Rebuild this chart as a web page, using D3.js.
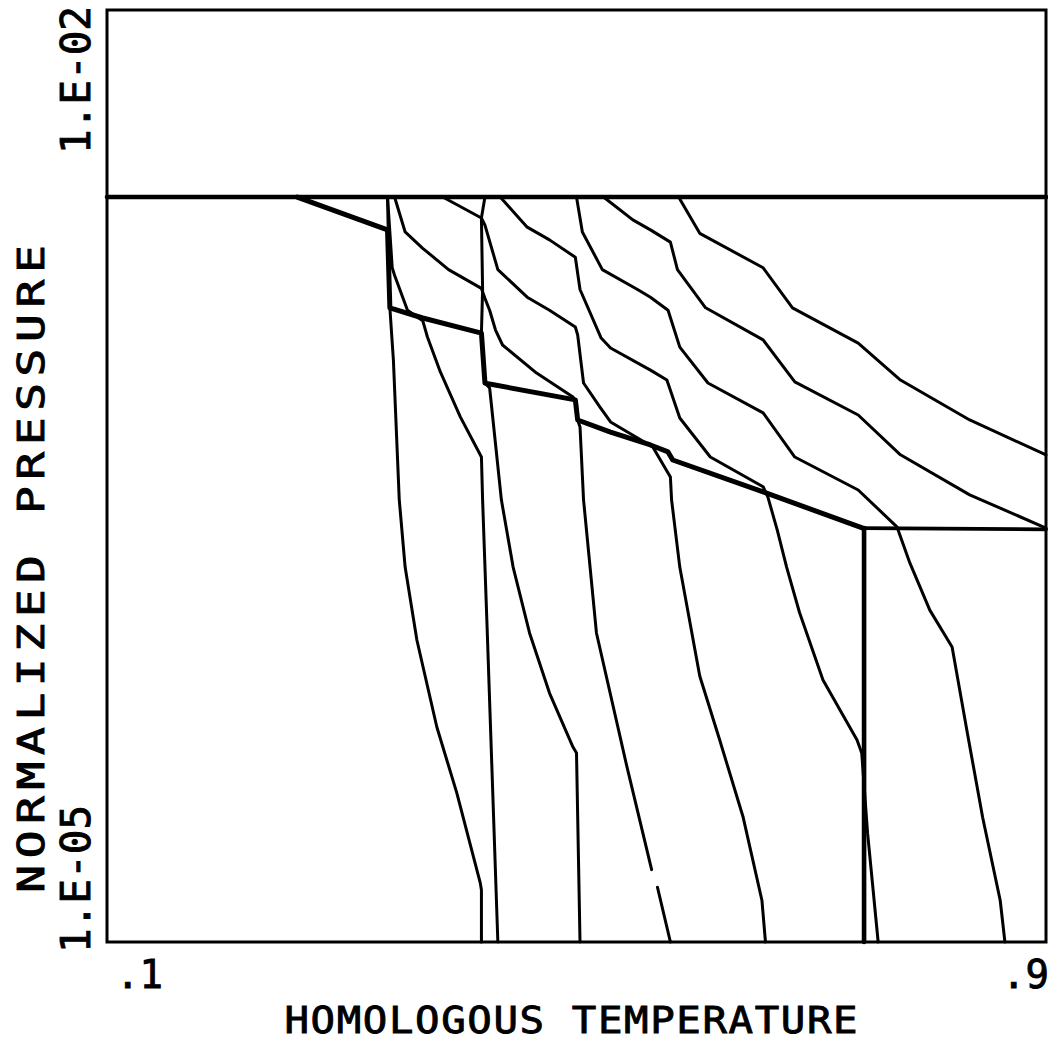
<!DOCTYPE html>
<html>
<head>
<meta charset="utf-8">
<script src="https://cdn.jsdelivr.net/npm/d3@7"></script>
<style>
  body { margin: 0; background: #fff; }
  svg { display: block; }
  text { font-family: "DejaVu Sans Mono", "Liberation Mono", monospace; fill: #000; stroke: #000; stroke-width: 0.9; }
</style>
</head>
<body>
<svg id="chart" width="1048" height="1046"></svg>
<script>
// Axis extents and end labels
const tempDomain = [0.1, 0.9];
const tempLabels = [".1", ".9"];
const pressDomain = [1e-5, 1e-2];
const pressLabels = ["1.E-05", "1.E-02"];

// Reference pressure level (upper heavy line)
const refPressure = 2.5e-3;

// Heavy boundary: stepped line from the reference level down to the right edge
const boundaryT = [0.262, 0.339, 0.341, 0.369, 0.419, 0.422, 0.426, 0.499, 0.501, 0.529, 0.563, 0.578, 0.582, 0.659, 0.744];
const boundaryP = [2.50e-3, 1.96e-3, 1.10e-3, 1.02e-3, 9.12e-4, 6.30e-4, 6.25e-4, 5.56e-4, 4.79e-4, 4.38e-4, 3.98e-4, 3.78e-4, 3.56e-4, 2.81e-4, 2.15e-4];
// Heavy shelf on the right and the heavy drop to the bottom
const shelfT = [0.744, 0.900];
const shelfP = [2.15e-4, 2.13e-4];
const dropT = [0.745, 0.745];
const dropP = [2.15e-4, 1.0e-5];

// Thin isolines (null marks a pen lift)
const lineAT = [0.339, 0.341, 0.344, 0.349, 0.354, 0.364, 0.381, 0.398, 0.418, 0.419, 0.419];
const lineAP = [2.50e-3, 1.10e-3, 7.47e-4, 2.65e-4, 1.61e-4, 9.38e-5, 4.92e-5, 3.02e-5, 1.55e-5, 1.47e-5, 1.0e-5];

const lineBT = [0.339, 0.343, 0.345, 0.356, 0.369, 0.373, 0.384, 0.401, 0.419, 0.420, 0.424, 0.433];
const lineBP = [2.50e-3, 1.48e-3, 1.40e-3, 1.08e-3, 1.00e-3, 8.86e-4, 6.84e-4, 4.90e-4, 3.64e-4, 2.65e-4, 9.88e-5, 1.0e-5];

const lineCT = [0.345, 0.354, 0.369, 0.391, 0.419, 0.422, 0.426, 0.431, 0.437, 0.466, 0.497, 0.500, 0.501, 0.503, 0.506, 0.517, 0.543, 0.564, null, 0.569, 0.580];
const lineCP = [2.50e-3, 1.93e-3, 1.71e-3, 1.46e-3, 1.27e-3, 1.18e-3, 1.08e-3, 9.33e-4, 8.35e-4, 6.78e-4, 5.68e-4, 5.43e-4, 4.79e-4, 4.55e-4, 2.65e-4, 9.88e-5, 3.66e-5, 1.71e-5, null, 1.50e-5, 1.0e-5];

const lineDT = [0.422, 0.419, 0.420, 0.419, 0.422, 0.426, 0.436, 0.446, 0.460, 0.477, 0.497, 0.500, 0.503];
const lineDP = [2.50e-3, 2.14e-3, 1.26e-3, 9.12e-4, 6.30e-4, 6.07e-4, 2.65e-4, 1.61e-4, 9.88e-5, 6.33e-5, 4.24e-5, 4.06e-5, 1.0e-5];

const lineET = [0.386, 0.419, 0.422, 0.433, 0.458, 0.477, 0.499, 0.501, 0.506, 0.520, 0.529, 0.565, 0.580, 0.581, 0.588, 0.605, 0.622, 0.642, 0.658, 0.661];
const lineEP = [2.50e-3, 2.14e-3, 2.03e-3, 1.46e-3, 1.19e-3, 1.08e-3, 9.54e-4, 8.99e-4, 6.30e-4, 5.27e-4, 4.72e-4, 3.92e-4, 3.14e-4, 2.65e-4, 1.61e-4, 7.18e-5, 4.47e-5, 2.52e-5, 1.36e-5, 1.0e-5];

const lineFT = [0.435, 0.458, 0.477, 0.499, 0.503, 0.521, 0.529, 0.563, 0.577, 0.588, 0.614, 0.659, 0.663, 0.671, 0.679, 0.690, 0.710, 0.739, 0.743, 0.748, 0.757];
const lineFP = [2.50e-3, 2.00e-3, 1.82e-3, 1.60e-3, 1.26e-3, 8.79e-4, 8.17e-4, 6.93e-4, 6.44e-4, 4.86e-4, 3.64e-4, 2.92e-4, 2.71e-4, 2.12e-4, 1.61e-4, 1.15e-4, 6.97e-5, 4.47e-5, 4.06e-5, 2.24e-5, 1.0e-5];

const lineGT = [0.500, 0.505, 0.522, 0.552, 0.563, 0.578, 0.588, 0.612, 0.659, 0.686, 0.740, 0.773, 0.784, 0.801, 0.820, 0.833, 0.846, 0.861, 0.865];
const lineGP = [2.50e-3, 1.93e-3, 1.46e-3, 1.26e-3, 1.19e-3, 1.08e-3, 8.22e-4, 6.30e-4, 5.05e-4, 3.64e-4, 2.85e-4, 2.17e-4, 1.66e-4, 1.17e-4, 8.91e-5, 4.71e-5, 2.52e-5, 1.36e-5, 1.0e-5];

const lineHT = [0.523, 0.548, 0.563, 0.580, 0.586, 0.610, 0.659, 0.686, 0.740, 0.776, 0.835, 0.900];
const lineHP = [2.50e-3, 2.11e-3, 1.96e-3, 1.79e-3, 1.46e-3, 1.10e-3, 8.67e-4, 6.35e-4, 4.97e-4, 3.70e-4, 2.75e-4, 2.15e-4];

const lineIT = [0.587, 0.605, 0.659, 0.684, 0.740, 0.776, 0.835, 0.900];
const lineIP = [2.50e-3, 1.91e-3, 1.48e-3, 1.10e-3, 8.47e-4, 6.44e-4, 4.79e-4, 3.70e-4];

const thinLines = [
  [lineAT, lineAP], [lineBT, lineBP], [lineCT, lineCP], [lineDT, lineDP],
  [lineET, lineEP], [lineFT, lineFP], [lineGT, lineGP], [lineHT, lineHP], [lineIT, lineIP]
];

const svg = d3.select("#chart");
const x = d3.scaleLinear().domain(tempDomain).range([107, 1046]);
const y = d3.scaleLog().domain(pressDomain).range([942, 10]);

const zip = (ts, ps) => ts.map((t, i) => [t, ps[i]]);
const line = d3.line()
  .defined(d => d[0] != null && d[1] != null)
  .x(d => x(d[0]))
  .y(d => y(d[1]));

const g = svg.append("g")
  .attr("fill", "none")
  .attr("stroke", "#000")
  .attr("stroke-linejoin", "round")
  .attr("stroke-linecap", "round");

// Thin isolines
g.selectAll("path.iso")
  .data(thinLines)
  .join("path")
  .attr("class", "iso")
  .attr("stroke-width", 3)
  .attr("d", d => line(zip(d[0], d[1])));

// Heavy lines
g.append("path")
  .attr("stroke-width", 4.6)
  .attr("d", line([[tempDomain[0], refPressure], [tempDomain[1], refPressure]]));
g.append("path")
  .attr("stroke-width", 5)
  .attr("d", line(zip(boundaryT, boundaryP)));
g.append("path")
  .attr("stroke-width", 3.8)
  .attr("d", line(zip(shelfT, shelfP)));
g.append("path")
  .attr("stroke-width", 4.6)
  .attr("d", line(zip(dropT, dropP)));

// Frame
svg.append("rect")
  .attr("x", x(tempDomain[0]))
  .attr("y", y(pressDomain[1]))
  .attr("width", x(tempDomain[1]) - x(tempDomain[0]))
  .attr("height", y(pressDomain[0]) - y(pressDomain[1]))
  .attr("fill", "none")
  .attr("stroke", "#000")
  .attr("stroke-width", 3);

// Temperature end labels
svg.append("text")
  .attr("x", x(tempDomain[0]) + 9).attr("y", 988)
  .attr("font-size", 39)
  .attr("text-anchor", "start")
  .text(tempLabels[0]);
svg.append("text")
  .attr("x", x(tempDomain[1]) + 3).attr("y", 988)
  .attr("font-size", 39)
  .attr("text-anchor", "end")
  .text(tempLabels[1]);

// Pressure end labels (rotated)
svg.append("text")
  .attr("transform", `translate(90,${y(pressDomain[0]) + 11}) rotate(-90)`)
  .attr("font-size", 41)
  .attr("text-anchor", "start")
  .text(pressLabels[0]);
svg.append("text")
  .attr("transform", `translate(90,${y(pressDomain[1]) - 4}) rotate(-90)`)
  .attr("font-size", 41)
  .attr("text-anchor", "end")
  .text(pressLabels[1]);

// Axis titles
svg.append("text")
  .attr("transform", "translate(571,1033) scale(1.1,1)")
  .attr("font-size", 37)
  .attr("text-anchor", "middle")
  .attr("textLength", 521).attr("lengthAdjust", "spacing")
  .text("HOMOLOGOUS TEMPERATURE");
svg.append("text")
  .attr("transform", "translate(44,569) rotate(-90) scale(1.25,1)")
  .attr("font-size", 37)
  .attr("text-anchor", "middle")
  .attr("textLength", 518).attr("lengthAdjust", "spacing")
  .text("NORMALIZED PRESSURE");
</script>
</body>
</html>
